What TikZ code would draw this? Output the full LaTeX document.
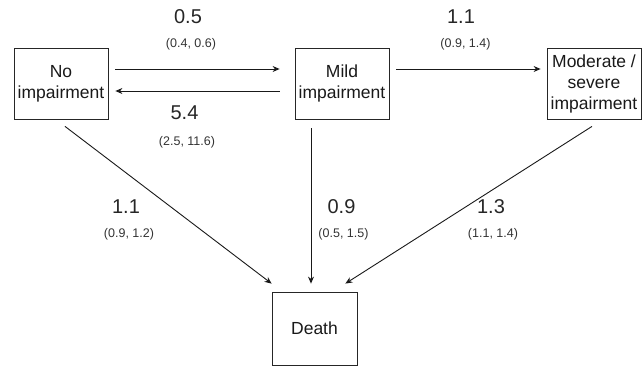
\documentclass[tikz,border=0pt]{standalone}
\usepackage{fontspec}
\setmainfont{Liberation Sans}
\usetikzlibrary{arrows.meta,calc}
\begin{document}
\begin{tikzpicture}[x=1pt,y=1pt,
  state/.style={draw=black!85,line width=0.8pt,minimum height=71pt,align=center,font=\fontsize{17.5}{21}\selectfont,text=black!90,inner sep=1pt},
  arr/.style={draw=black!90,line width=0.9pt,-{Stealth[length=7pt,width=6pt]}},
  big/.style={font=\fontsize{20}{24}\selectfont,text=black!85},
  small/.style={font=\fontsize{12.5}{15}\selectfont,text=black!80}]
\useasboundingbox (0,0) rectangle (643,369);
\node[state,minimum width=94pt] (no) at (61,285.5) {No\\impairment};
\node[state,minimum width=94pt] (mild) at (342,285.5) {Mild\\impairment};
\node[state,minimum width=94pt] (mod) at (594,285.5) {Moderate /\\severe\\impairment};
\node[state,minimum width=85pt,minimum height=73pt] (death) at (314.5,40.5) {Death};
\draw[arr] ([xshift=7pt,yshift=14.5pt]no.east) -- ([xshift=-15pt,yshift=14.5pt]mild.west);
\draw[arr] ([xshift=-15pt,yshift=-7.5pt]mild.west) -- ([xshift=7pt,yshift=-7.5pt]no.east);
\draw[arr] ([xshift=7pt,yshift=14.5pt]mild.east) -- ([xshift=-6pt,yshift=14.5pt]mod.west);
\draw[arr] ([xshift=4pt,yshift=-7pt]no.south) -- ([yshift=8pt]death.north west);
\draw[arr] ([xshift=-31pt,yshift=-9pt]mild.south) -- ([xshift=-3.5pt,yshift=8pt]death.north);
\draw[arr] ([xshift=-2pt,yshift=-7pt]mod.south) -- ([xshift=-12pt,yshift=8pt]death.north east);
\node[big] (l1) at (188,352.5) {0.5};
\node[small] (l1c) at (191,324.5) {(0.4, 0.6)};
\node[big] (l2) at (184.5,256) {5.4};
\node[small] (l2c) at (187,226.5) {(2.5, 11.6)};
\node[big] (l3) at (461,352.5) {1.1};
\node[small] (l3c) at (465.5,324.5) {(0.9, 1.4)};
\node[big] (l4) at (126,162) {1.1};
\node[small] (l4c) at (129,135) {(0.9, 1.2)};
\node[big] (l5) at (341.5,162) {0.9};
\node[small] (l5c) at (343.5,135) {(0.5, 1.5)};
\node[big] (l6) at (491,162) {1.3};
\node[small] (l6c) at (493,135) {(1.1, 1.4)};
\end{tikzpicture}
\end{document}
